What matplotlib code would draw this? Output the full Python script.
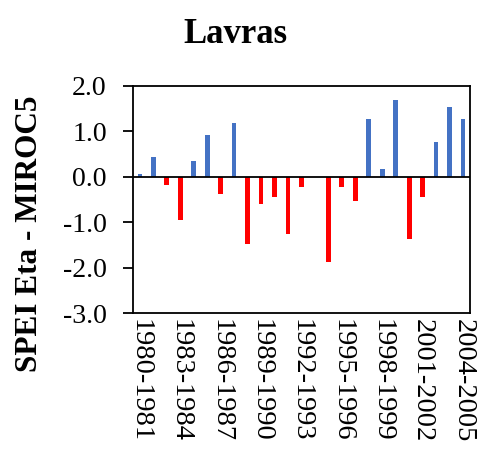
import matplotlib.pyplot as plt
import numpy as np

plt.rcParams['font.family'] = ['Liberation Serif', 'DejaVu Serif']

seasons = [f"{y}-{y+1}" for y in range(1980, 2005)]
spei = [0.07, 0.44, -0.19, -0.96, 0.34, 0.91, -0.39, 1.18, -1.47, -0.59,
        -0.44, -1.26, -0.23, 0.0, -1.88, -0.23, -0.54, 1.28, 0.18, 1.69,
        -1.37, -0.44, 0.76, 1.54, 1.28]

colors = ['#4472C4' if v >= 0 else '#FF0000' for v in spei]

fig = plt.figure(figsize=(4.95, 4.62), dpi=100)
ax = fig.add_axes([0.269, 0.3225, 0.68, 0.4915])

x = np.arange(len(seasons))
ax.bar(x, spei, width=0.35, color=colors)
ax.axhline(0, color='black', linewidth=1.3)

ax.set_xlim(-0.5, len(seasons) - 0.5)
ax.set_ylim(-3.0, 2.0)
yt = np.arange(-3, 2.1, 1.0)
ax.set_yticks(yt)
ax.set_yticklabels([f"{v:.1f}" for v in yt], fontsize=20)
ax.set_xticks(x[::3])
ax.set_xticklabels(seasons[::3], rotation=270, fontsize=20.5)
ax.tick_params(axis='x', length=0, pad=4)
ax.tick_params(axis='y', length=7, width=1.3, direction='out', pad=12)
for s in ax.spines.values():
    s.set_linewidth(1.3)

# title and y label placed in figure coords
fig.text(235 / 495, 1 - 43 / 462, "Lavras", fontsize=25, fontweight='bold',
         ha='center', va='baseline')
fig.text(30 / 495, 1 - 234 / 462, "SPEI Eta - MIROC5", fontsize=22.5,
         fontweight='bold', rotation=90, ha='center', va='center')

fig.savefig("out.png", dpi=100)
